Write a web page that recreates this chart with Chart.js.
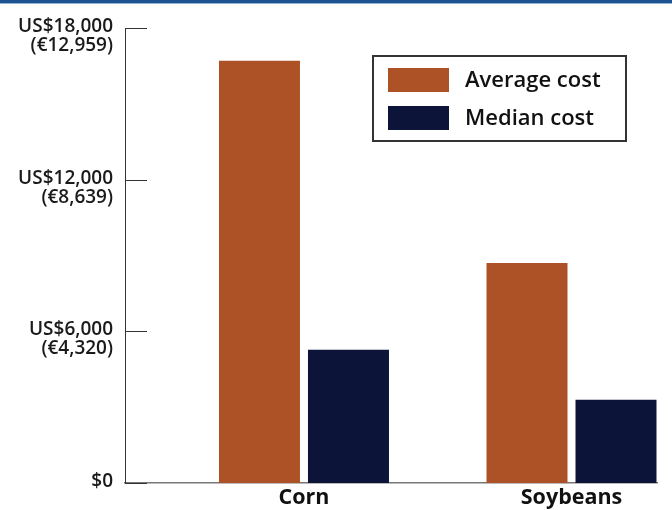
<!DOCTYPE html>
<html>
<head>
<meta charset="utf-8">
<script src="https://cdn.jsdelivr.net/npm/chart.js@4.4.1/dist/chart.umd.min.js"></script>
<style>
  body { margin: 0; background: #fff; }
  #wrap { position: relative; width: 672px; height: 510px; }
  #topBar { position: absolute; top: 0; left: 0; width: 672px; height: 3px; background: #1d5391; border-bottom: 1px solid #93b4d6; }
</style>
</head>
<body>
<div id="wrap">
  <canvas id="costChart" width="672" height="510"></canvas>
  <div id="topBar"></div>
</div>
<script>
const crops = ['Corn', 'Soybeans'];
const averageCost = [16700, 8700];
const medianCost = [5270, 3290];
const yTickValues = [0, 6000, 12000, 18000];
const yTickLabels = [
  ['$0', ''],
  ['US$6,000', '(€4,320)'],
  ['US$12,000', '(€8,639)'],
  ['US$18,000', '(€12,959)']
];

const ORANGE = '#ad5227';
const NAVY = '#0c143a';

Chart.defaults.font.family = "'Open Sans', sans-serif";

// short tick marks pointing into the plot from the y axis line
const innerTicks = {
  id: 'innerTicks',
  afterDraw(chart) {
    const y = chart.scales.y;
    const ctx = chart.ctx;
    ctx.save();
    ctx.strokeStyle = '#333';
    ctx.lineWidth = 1;
    yTickValues.forEach(v => {
      const py = Math.round(y.getPixelForValue(v)) + 0.5;
      ctx.beginPath();
      ctx.moveTo(y.right, py);
      ctx.lineTo(y.right + 22, py);
      ctx.stroke();
    });
    ctx.restore();
  }
};

// boxed legend floating in the top right of the plot
const boxLegend = {
  id: 'boxLegend',
  afterDraw(chart) {
    const ctx = chart.ctx;
    const area = chart.chartArea;
    const left = area.left + 248;
    const top = area.top + 28;
    ctx.save();
    ctx.strokeStyle = '#333';
    ctx.lineWidth = 2;
    ctx.strokeRect(left, top, 253, 85);
    ctx.font = "600 22px 'Open Sans'";
    ctx.textBaseline = 'middle';
    chart.data.datasets.forEach((ds, i) => {
      const sy = top + 12 + i * 38;
      ctx.fillStyle = ds.backgroundColor;
      ctx.fillRect(left + 15, sy, 61, 24);
      ctx.fillStyle = '#111';
      ctx.fillText(ds.label, left + 92, sy + 13);
    });
    ctx.restore();
  }
};

const toPoints = values => values.map((v, i) => ({ x: i, y: v }));

new Chart(document.getElementById('costChart'), {
  type: 'bar',
  data: {
    datasets: [
      { label: 'Average cost', data: toPoints(averageCost), backgroundColor: ORANGE },
      { label: 'Median cost', data: toPoints(medianCost), backgroundColor: NAVY }
    ]
  },
  options: {
    responsive: false,
    animation: false,
    layout: { padding: { top: 0, right: 15, left: 0, bottom: 0 } },
    categoryPercentage: 0.6654,
    barPercentage: 0.91,
    plugins: {
      legend: { display: false },
      tooltip: { enabled: false }
    },
    scales: {
      x: {
        type: 'linear',
        offset: false,
        bounds: 'data',
        min: -0.669,
        max: 1.3196,
        afterBuildTicks: scale => { scale.ticks = crops.map((c, i) => ({ value: i })); },
        afterFit: scale => { scale.height = 27; scale.paddingLeft = 0; scale.paddingRight = 0; },
        grid: { display: false, drawTicks: false, offset: false },
        border: { display: true, color: '#777', width: 1.5 },
        ticks: {
          callback: v => crops[v],
          color: '#111',
          padding: 2,
          maxRotation: 0,
          font: { size: 21.5, weight: 'bold' }
        }
      },
      y: {
        min: 0,
        max: 18000,
        afterBuildTicks: scale => { scale.ticks = yTickValues.map(v => ({ value: v })); },
        afterFit: scale => { scale.width = 125; scale.paddingTop = 28; scale.paddingBottom = 0; },
        grid: { display: false, drawTicks: false },
        border: { display: true, color: '#333', width: 1 },
        ticks: {
          callback: v => yTickLabels[yTickValues.indexOf(v)],
          color: '#1a1a1a',
          padding: 12,
          labelOffset: 8,
          font: { size: 19, weight: 600, lineHeight: 1.0 }
        }
      }
    }
  },
  plugins: [innerTicks, boxLegend]
});
</script>
</body>
</html>
